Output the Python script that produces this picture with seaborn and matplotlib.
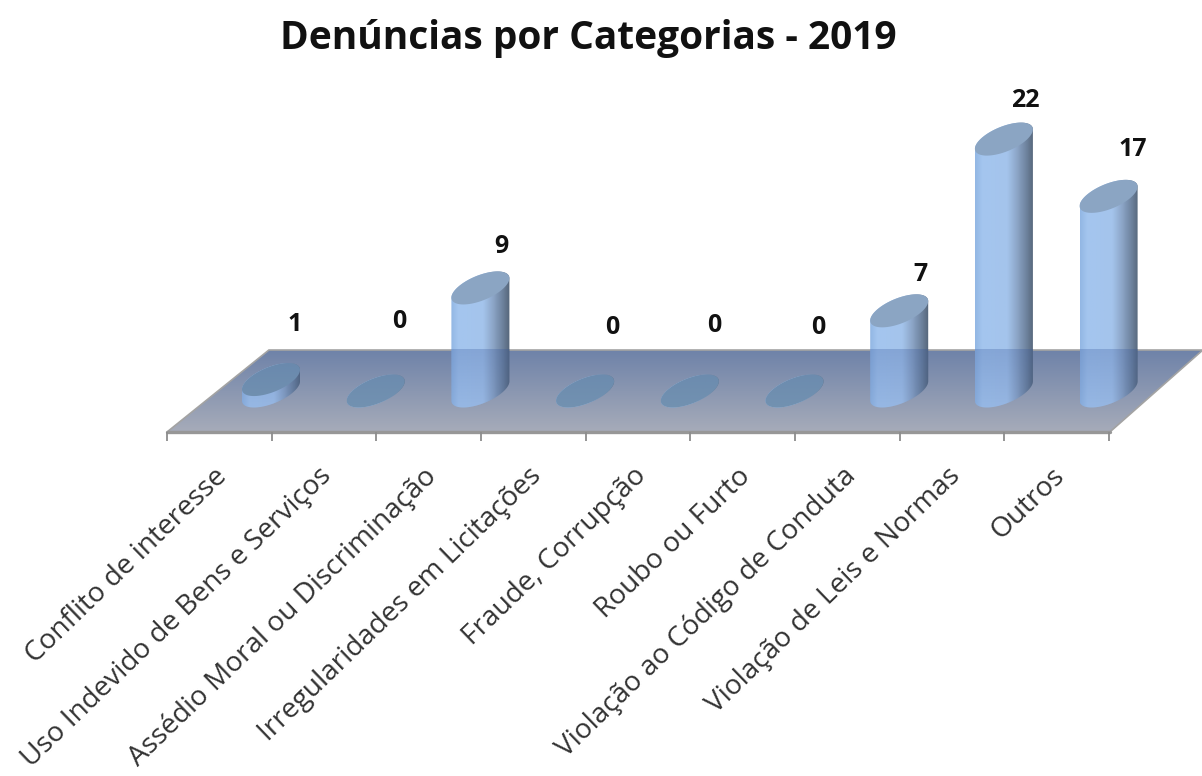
import numpy as np
import seaborn as sns
import matplotlib.pyplot as plt
from matplotlib.colors import LinearSegmentedColormap, to_rgb
from matplotlib.patches import Polygon

categories = ["Conflito de interesse", "Uso Indevido de Bens e Serviços",
              "Assédio Moral ou Discriminação", "Irregularidades em Licitações",
              "Fraude, Corrupção", "Roubo ou Furto", "Violação ao Código de Conduta",
              "Violação de Leis e Normas", "Outros"]
values = [1, 0, 9, 0, 0, 0, 7, 22, 17]
title = "Denúncias por Categorias - 2019"

# pixel layout of the picture
W, H = 1202, 776
x0_px, dx_px = 271, 104.7   # first bar centre, bar spacing
y0_px, dy_px = 391, 11.45   # floor level, pixels per unit
floor_depth = 3.58
# gap from bar top to the value label (px), and sideways shift
label_gap = [55, 69, 41, 63, 65, 63, 36, 39, 47]
label_side = [24, 24, 21, 27, 24, 24, 21, 21, 24]

sns.set_theme(style="white")
plt.rcParams['font.family'] = ['Open Sans', 'DejaVu Sans']

fig = plt.figure(figsize=(W / 100, H / 100), dpi=100)
ax = fig.add_axes([0, 0, 1, 1])
sns.barplot(x=categories, y=values, ax=ax, width=0.554, color="#a6c8f0")
bars = list(ax.patches)

xlim = (-x0_px / dx_px, (W - x0_px) / dx_px)
ylim = ((y0_px - H) / dy_px, y0_px / dy_px)

body_cmap = LinearSegmentedColormap.from_list("body", [(0, "#93b7e4"), (0.12, "#a4c6ef"), (0.55, "#a4c4ec"),
                                                       (0.72, "#8ca5c7"), (0.88, "#6e839e"), (1, "#56677b")])
floor_cmap = LinearSegmentedColormap.from_list("floor", ["#6f83a9", "#a6abb9"])

# floor
floor = Polygon([(-0.993, -floor_depth), (-0.02, floor_depth), (8.9, floor_depth), (8.012, -floor_depth)],
                closed=True, transform=ax.transData, facecolor="none", edgecolor="#a3a3a3", lw=1.2, zorder=1.2)
ax.add_patch(floor)
im = ax.imshow(np.linspace(0, 1, 64).reshape(-1, 1), extent=(-1, 9, -floor_depth, floor_depth), origin="upper",
               aspect="auto", cmap=floor_cmap, zorder=1)
im.set_clip_path(floor)
ax.plot([-0.993, 8.012], [-floor_depth, -floor_depth], color="#979797", lw=2.4, zorder=1.3)
ax.vlines(np.arange(-1, 9) + 0.005, -floor_depth - 0.75, -floor_depth, color="#8c8c8c", lw=1.3, zorder=1.3)

# cylinders: tilted ellipses joined into a silhouette
t = np.linspace(0, 2 * np.pi, 181)
phi = np.deg2rad(36)
b = 16.5 / dy_px
tint = np.zeros((64, 1, 4))
tint[..., :3] = to_rgb("#34559a")
tint[:, 0, 3] = np.linspace(0.28, 0.10, 64)

for i, bar in enumerate(bars):
    a = bar.get_width() / 2
    cx = bar.get_x() + a
    v = bar.get_height()
    bar.set_visible(False)
    ex = cx + a * np.cos(t)
    ey = b * np.sin(t + phi)
    # lower arc goes from the left extreme to the right extreme
    lower = (t >= np.pi) & (t <= 2 * np.pi)
    upper = t <= np.pi
    hull = np.vstack([np.column_stack([ex[lower], ey[lower]]),
                      np.column_stack([ex[upper], ey[upper] + v])])
    clip = Polygon(hull, closed=True, transform=ax.transData)
    body = ax.imshow(np.linspace(0, 1, 64).reshape(1, -1), extent=(cx - a, cx + a, -2, v + 2), aspect="auto",
                     cmap=body_cmap, vmin=0, vmax=1, zorder=2)
    body.set_clip_path(clip)
    # caps lying on the floor read darker than the ones above it
    cap = "#7b9ab4" if v < floor_depth else "#8ba5c3"
    ax.fill(ex, ey + v, color=cap, lw=0, zorder=2.1)
    # the floor shows through the part of the bar behind its back edge
    shade = ax.imshow(tint, extent=(cx - a, cx + a, -2.2, floor_depth), origin="upper", aspect="auto", zorder=2.2)
    shade.set_clip_path(clip)
    ax.text(cx + label_side[i] / dx_px, v + label_gap[i] / dy_px, str(values[i]), ha="center", va="center",
            fontsize=18, fontweight="bold", color="#111111", zorder=3)
    ax.text(cx - 0.455, -7.1, categories[i], rotation=44, rotation_mode="anchor", ha="right",
            va="center", fontsize=20.2, color="#333333")

ax.set_xlim(xlim)
ax.set_ylim(ylim)
ax.axis("off")
ax.text(0.4894, 1 - 38 / H, title, transform=ax.transAxes, ha="center", va="center", fontsize=28,
        fontweight="bold", color="#111111")

fig.savefig("out.png", dpi=100)
